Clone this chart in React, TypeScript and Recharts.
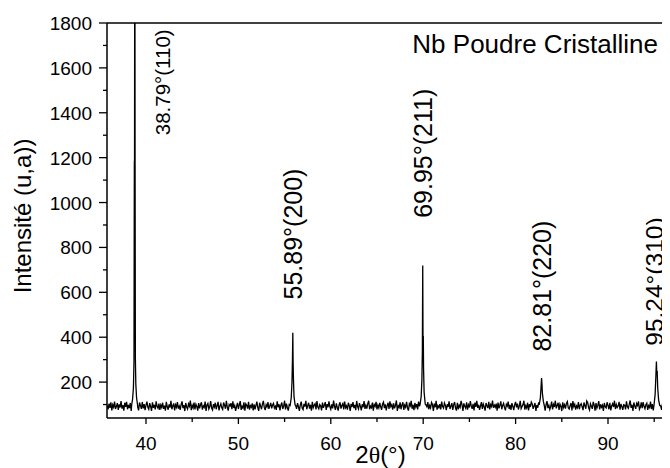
import React from 'react';
import { LineChart, Line, XAxis, YAxis, ReferenceLine, ReferenceDot, Label } from 'recharts';

// ---------- data ----------
const scanStart = 35.8;
const scanStep = 0.1;
// background counts (every 0.1°)
const background = [
  96, 78, 104, 85, 110, 74, 99, 88, 113, 80, 92, 106, 76, 101, 87, 115, 82, 97, 73, 108,
  90, 112, 79, 98, 84, 107, 71, 94, 103, 86, 117, 77, 100, 89, 74, 109, 95, 81, 111, 83,
  102, 75, 97, 113, 88, 79, 106, 92, 72, 110, 85, 99, 78, 114, 91, 83, 104, 76, 98, 87,
  108, 81, 95, 73, 112, 90, 77, 101, 86, 116, 79, 94, 105, 74, 99, 88, 111, 82, 93, 76,
  100, 114, 84, 97, 71, 107, 89, 80, 103, 92, 118, 75, 96, 85, 109, 78, 101, 91, 73, 106,
  83, 99, 110, 77, 94, 87, 113, 72, 98, 105, 80, 91, 115, 84, 76, 102, 89, 108, 79, 95,
  112, 74, 93, 104, 86, 78, 109, 97, 81, 117, 88, 73, 100, 94, 106, 79, 114, 85, 96, 72,
  91, 107, 80, 99, 115, 76, 92, 84, 110, 73, 103, 97, 82, 112, 77, 95, 88, 105, 74, 101,
  78, 96, 113, 85, 72, 108, 93, 79, 102, 116, 87, 75, 99, 90, 111, 81, 94, 107, 83, 98,
  105, 84, 92, 76, 114, 88, 101, 74, 97, 109, 80, 93, 117, 78, 104, 86, 73, 100, 92, 112,
  87, 102, 75, 110, 95, 81, 106, 90, 72, 98, 113, 84, 77, 103, 91, 116, 79, 95, 108, 82,
  99, 73, 112, 86, 97, 104, 78, 115, 89, 81, 100, 94, 74, 109, 85, 97, 111, 76, 102, 88,
  114, 90, 79, 101, 83, 118, 92, 76, 105, 87, 73, 99, 110, 82, 96, 104, 78, 113, 86, 94,
  77, 108, 95, 72, 103, 89, 111, 84, 98, 75, 116, 91, 80, 106, 93, 74, 101, 88, 115, 81,
  96, 82, 104, 117, 79, 93, 86, 109, 73, 100, 92, 112, 78, 97, 85, 107, 90, 76, 103, 111,
  84, 101, 74, 95, 108, 80, 114, 91, 99, 77, 105, 83, 96, 118, 72, 94, 87, 110, 79, 98,
  110, 76, 97, 88, 112, 85, 73, 103, 94, 116, 81, 99, 75, 107, 89, 102, 78, 113, 92, 83,
  93, 115, 80, 106, 74, 98, 90, 111, 79, 96, 85, 109, 100, 72, 104, 88, 117, 77, 95, 86,
  102, 78, 113, 91, 84, 107, 96, 75, 101, 89, 114, 80, 93, 106, 76, 99, 111, 84, 73, 108,
  79, 97, 88, 116, 100, 72, 105, 92, 83, 110, 77, 98, 87, 115, 94, 81, 103, 74, 109, 90,
  116, 85, 99, 76, 94, 111, 81, 102, 90, 73, 107, 95, 84, 112, 78, 100, 91, 118, 86, 97,
  88, 104, 73, 109, 83, 97, 114, 79, 96, 105, 86, 74, 101, 93, 113, 80, 98, 76, 106, 92,
  75, 99, 112, 87, 104, 78, 93, 116, 82, 91, 100, 117, 77, 95, 85, 108, 74, 102, 89, 111,
  103, 81, 94, 107, 72, 98, 86, 110, 75, 114, 89, 80, 106, 97, 73, 101, 115, 84, 96, 78,
  92, 113, 78, 100, 89, 117, 83, 96, 108, 76, 102, 93, 71, 110, 87, 99, 82, 105, 113, 86,
  80, 95, 107, 74, 115, 91, 101, 77, 94, 86, 111, 79, 98, 104, 90, 75, 109, 95, 81, 116,
  109, 87, 76, 103, 92, 81, 112, 98, 73, 106, 84, 96, 115, 78, 101, 88, 97, 72, 107, 90,
  85, 110, 96, 79, 108, 74, 94, 104, 89, 117, 80, 100, 87, 93, 112, 77, 103, 91, 76, 99,
  97, 78, 114, 90, 83, 101, 118, 85, 99, 72, 109, 93, 81, 105, 96, 114, 79, 88, 110, 84,
  111, 92, 81, 99, 106, 76, 95, 87, 113, 80, 102, 74, 97, 108, 85, 91, 116, 78, 100, 94,
  76, 104, 89, 115, 82, 97, 73, 107, 93, 100, 86, 112, 79, 95, 109, 83, 98, 117, 88, 103,
];

// peak profiles [2θ, counts]
const peak110: [number, number][] = [
  [38.45, 98], [38.55, 125], [38.64, 175], [38.7, 290], [38.74, 1180],
  [38.76, 1190], [38.79, 2600], [38.82, 1170], [38.85, 310], [38.9, 190],
  [38.98, 130], [39.08, 100],
];
const peak200: [number, number][] = [
  [55.6, 96], [55.72, 130], [55.8, 200], [55.85, 300], [55.89, 420],
  [55.92, 290], [55.96, 210], [56.02, 135], [56.14, 98],
];
const peak211: [number, number][] = [
  [69.66, 100], [69.78, 135], [69.86, 210], [69.91, 340], [69.95, 720],
  [69.98, 400], [70.01, 405], [70.04, 260], [70.1, 155], [70.22, 102],
];
const peak220: [number, number][] = [
  [82.55, 98], [82.68, 130], [82.75, 175], [82.81, 218], [82.85, 195],
  [82.9, 150], [83.0, 115], [83.1, 96],
];
const peak310: [number, number][] = [
  [94.98, 98], [95.1, 145], [95.18, 225], [95.24, 292], [95.28, 235],
  [95.32, 250], [95.38, 175], [95.48, 120], [95.6, 96],
];
const peaks = [peak110, peak200, peak211, peak220, peak310];

const xMajorTicks = [40, 50, 60, 70, 80, 90];
const xAllTicks = [40, 45, 50, 55, 60, 65, 70, 75, 80, 85, 90, 95];
const yMajorTicks = [200, 400, 600, 800, 1000, 1200, 1400, 1600, 1800];
const yAllTicks = [100, 200, 300, 400, 500, 600, 700, 800, 900, 1000, 1100, 1200, 1300, 1400, 1500, 1600, 1700, 1800];

const annotations = [
  { angle: 41.8, at: 1300, text: '38.79°(110)', size: 20.5 },
  { angle: 55.89, at: 568, text: '55.89°(200)', size: 25 },
  { angle: 69.95, at: 932, text: '69.95°(211)', size: 25 },
  { angle: 82.81, at: 336, text: '82.81°(220)', size: 25 },
  { angle: 94.98, at: 362, text: '95.24°(310)', size: 24.5 },
];

const title = 'Nb Poudre Cristalline';
const yTitle = 'Intensité (u,a))';

// ---------- build ----------
const windows = peaks.map((p) => [p[0][0], p[p.length - 1][0]]);
const bgPoints = background
  .map((v, i) => ({ x: +(scanStart + i * scanStep).toFixed(2), y: v }))
  .filter((p) => !windows.some(([a, b]) => p.x >= a && p.x <= b));
const peakPoints = peaks.flat().map(([x, y]) => ({ x, y }));
const data = [...bgPoints, ...peakPoints].sort((a, b) => a.x - b.x);

const FONT = "'Liberation Sans', Arial, Helvetica, sans-serif";

const XTick = (props: any) => {
  const { x, y, payload } = props;
  const v = payload.value;
  const major = xMajorTicks.includes(v);
  return (
    <g>
      <line x1={x} x2={x} y1={y} y2={y + (major ? 6 : 4)} stroke="#000" strokeWidth={1.3} />
      {major && (
        <text x={x} y={y + 32} textAnchor="middle" fontSize={19} fontFamily={FONT} fill="#000">
          {v}
        </text>
      )}
    </g>
  );
};

const YTick = (props: any) => {
  const { x, y, payload } = props;
  const v = payload.value;
  const major = yMajorTicks.includes(v);
  return (
    <g>
      <line x1={x - (major ? 8 : 4)} x2={x} y1={y} y2={y} stroke="#000" strokeWidth={1.3} />
      {major && (
        <text x={x - 15} y={y + 7} textAnchor="end" fontSize={19} fontFamily={FONT} fill="#000">
          {v}
        </text>
      )}
    </g>
  );
};

const XTitle = (props: any) => {
  const vb = props.viewBox || {};
  const cx = vb.x + vb.width / 2 - 8;
  return (
    <text x={cx} y={vb.y + 45} textAnchor="middle" fontSize={24} fontFamily={FONT} fill="#000">
      <tspan>2</tspan>
      <tspan fontFamily="'Liberation Serif', 'Times New Roman', serif">θ</tspan>
      <tspan>(°)</tspan>
    </text>
  );
};

const YTitle = (props: any) => {
  const vb = props.viewBox || {};
  const x = vb.x + 23;
  const y = 208;
  return (
    <text x={x} y={y} transform={`rotate(-90 ${x} ${y})`} textAnchor="middle" fontSize={24} fontFamily={FONT} fill="#000">
      {yTitle}
    </text>
  );
};

const makeRotLabel = (text: string, size: number) => (props: any) => {
  const vb = props.viewBox || {};
  const x = vb.x + (vb.width || 0) / 2;
  const y = vb.y + (vb.height || 0) / 2;
  return (
    <text
      x={x}
      y={y}
      dy="0.36em"
      transform={`rotate(-90 ${x} ${y})`}
      textAnchor="start"
      fontSize={size}
      fontFamily={FONT}
      fill="#000"
    >
      {text}
    </text>
  );
};

export default function App() {
  return (
    <LineChart width={662} height={460} data={data} margin={{ top: 15, right: 0, bottom: 0, left: 0 }}>
      <XAxis
        dataKey="x"
        type="number"
        domain={[35.78, 96.71]}
        allowDataOverflow
        ticks={xAllTicks}
        interval={0}
        tick={<XTick />}
        tickLine={false}
        tickSize={0}
        tickMargin={0}
        height={50}
        axisLine={{ stroke: '#000', strokeWidth: 1.5 }}
      >
        <Label content={<XTitle />} />
      </XAxis>
      <YAxis
        type="number"
        domain={[40, 1800]}
        allowDataOverflow
        ticks={yAllTicks}
        interval={0}
        tick={<YTick />}
        tickLine={false}
        tickSize={0}
        tickMargin={0}
        width={99}
        axisLine={{ stroke: '#000', strokeWidth: 1.5 }}
      >
        <Label content={<YTitle />} />
      </YAxis>
      <ReferenceLine
        y={1800}
        stroke="#000"
        strokeWidth={1.5}
        label={{ value: title, position: 'insideTopRight', offset: 12, fontSize: 26, fontFamily: FONT, fill: '#000' }}
      />
      {annotations.map((a) => (
        <ReferenceDot key={a.text} x={a.angle} y={a.at} r={0} stroke="none" fill="none" label={makeRotLabel(a.text, a.size)} />
      ))}
      <Line type="linear" dataKey="y" stroke="#000" strokeWidth={1.3} dot={false} isAnimationActive={false} />
    </LineChart>
  );
}
